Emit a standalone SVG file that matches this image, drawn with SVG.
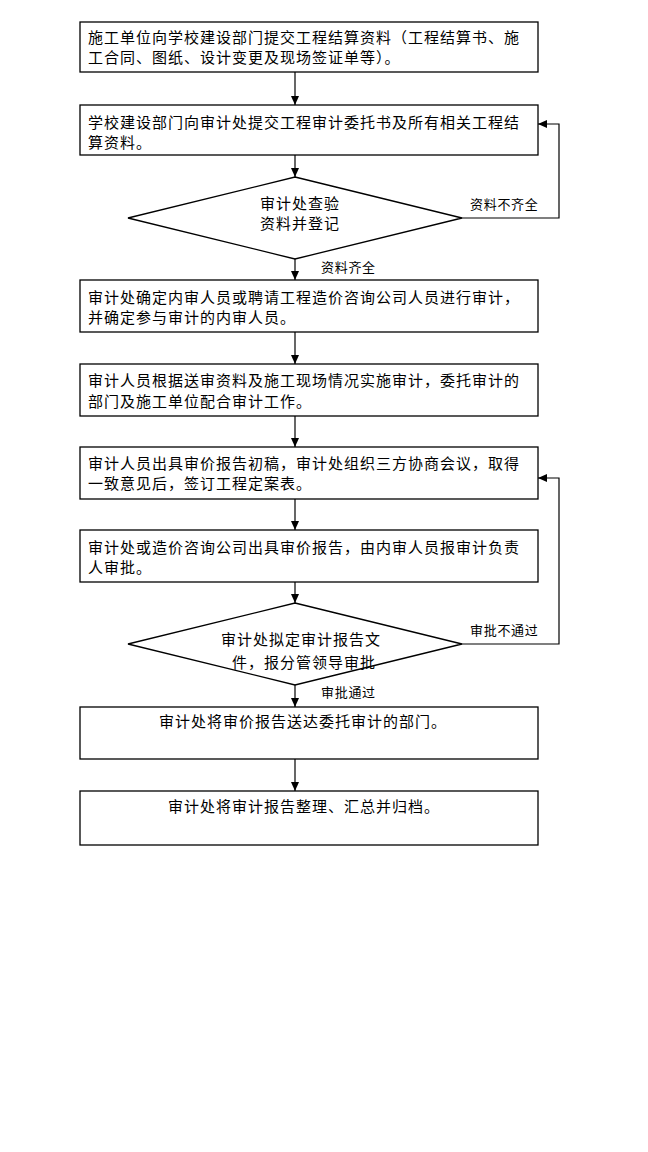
<svg xmlns="http://www.w3.org/2000/svg" width="648" height="1152" viewBox="0 0 648 1152">
<style>
.box{fill:#fff;stroke:#000;stroke-width:1.3}
.t{font-family:"Noto Sans CJK SC","Liberation Sans",sans-serif;font-size:15px;letter-spacing:1px;fill:#000;dominant-baseline:central}
.c{text-anchor:middle}
.lb{font-family:"Noto Sans CJK SC","Liberation Sans",sans-serif;font-size:13px;letter-spacing:0.7px;fill:#000;dominant-baseline:central}
.ln{fill:none;stroke:#000;stroke-width:1.2}
</style>
<defs>
<marker id="ah" markerUnits="userSpaceOnUse" markerWidth="9" markerHeight="8" viewBox="0 0 9 8" refX="9" refY="4" orient="auto">
<path d="M0,0 L9,4 L0,8 Z" fill="#000"/>
</marker>
</defs>
<g id="connectors">
<line class="ln" x1="295" y1="72" x2="295" y2="105" marker-end="url(#ah)"/>
<line class="ln" x1="295" y1="155" x2="295" y2="177" marker-end="url(#ah)"/>
<line class="ln" x1="295" y1="259" x2="295" y2="280" marker-end="url(#ah)"/>
<line class="ln" x1="295" y1="332" x2="295" y2="364" marker-end="url(#ah)"/>
<line class="ln" x1="295" y1="416" x2="295" y2="447" marker-end="url(#ah)"/>
<line class="ln" x1="295" y1="499" x2="295" y2="530" marker-end="url(#ah)"/>
<line class="ln" x1="295" y1="582" x2="295" y2="603" marker-end="url(#ah)"/>
<line class="ln" x1="295" y1="685" x2="295" y2="707" marker-end="url(#ah)"/>
<line class="ln" x1="295" y1="759" x2="295" y2="791" marker-end="url(#ah)"/>
<polyline class="ln" points="462,218 559,218 559,124 538,124" marker-end="url(#ah)"/>
<polyline class="ln" points="462,644 559,644 559,478 538,478" marker-end="url(#ah)"/>
<text class="lb" x="470" y="203">资料不齐全</text>
<text class="lb" x="321" y="266">资料齐全</text>
<text class="lb" x="470" y="629">审批不通过</text>
<text class="lb" x="321" y="691">审批通过</text>
</g>
<g id="n1">
<rect class="box" x="80" y="22" width="458" height="50"/>
<text class="t" x="88" y="36">施工单位向学校建设部门提交工程结算资料（工程结算书、施</text>
<text class="t" x="88" y="56">工合同、图纸、设计变更及现场签证单等）。</text>
</g>
<g id="n2">
<rect class="box" x="80" y="105" width="458" height="50"/>
<text class="t" x="88" y="121">学校建设部门向审计处提交工程审计委托书及所有相关工程结</text>
<text class="t" x="88" y="141">算资料。</text>
</g>
<g id="d1">
<polygon class="box" points="295,177 462,218 295,259 128,218"/>
<text class="t c" x="300" y="202">审计处查验</text>
<text class="t c" x="300" y="222">资料并登记</text>
</g>
<g id="n3">
<rect class="box" x="80" y="280" width="458" height="52"/>
<text class="t" x="88" y="296">审计处确定内审人员或聘请工程造价咨询公司人员进行审计，</text>
<text class="t" x="88" y="316">并确定参与审计的内审人员。</text>
</g>
<g id="n4">
<rect class="box" x="80" y="364" width="458" height="52"/>
<text class="t" x="88" y="379">审计人员根据送审资料及施工现场情况实施审计，委托审计的</text>
<text class="t" x="88" y="400">部门及施工单位配合审计工作。</text>
</g>
<g id="n5">
<rect class="box" x="80" y="447" width="458" height="52"/>
<text class="t" x="88" y="462">审计人员出具审价报告初稿，审计处组织三方协商会议，取得</text>
<text class="t" x="88" y="482">一致意见后，签订工程定案表。</text>
</g>
<g id="n6">
<rect class="box" x="80" y="530" width="458" height="52"/>
<text class="t" x="88" y="546">审计处或造价咨询公司出具审价报告，由内审人员报审计负责</text>
<text class="t" x="88" y="566">人审批。</text>
</g>
<g id="d2">
<polygon class="box" points="295,603 462,644 295,685 128,644"/>
<text class="t c" x="301" y="638">审计处拟定审计报告文</text>
<text class="t c" x="304" y="661">件，报分管领导审批</text>
</g>
<g id="n7">
<rect class="box" x="80" y="707" width="458" height="52"/>
<text class="t c" x="303" y="720">审计处将审价报告送达委托审计的部门。</text>
</g>
<g id="n8">
<rect class="box" x="80" y="791" width="458" height="54"/>
<text class="t c" x="304" y="805">审计处将审计报告整理、汇总并归档。</text>
</g>
</svg>
